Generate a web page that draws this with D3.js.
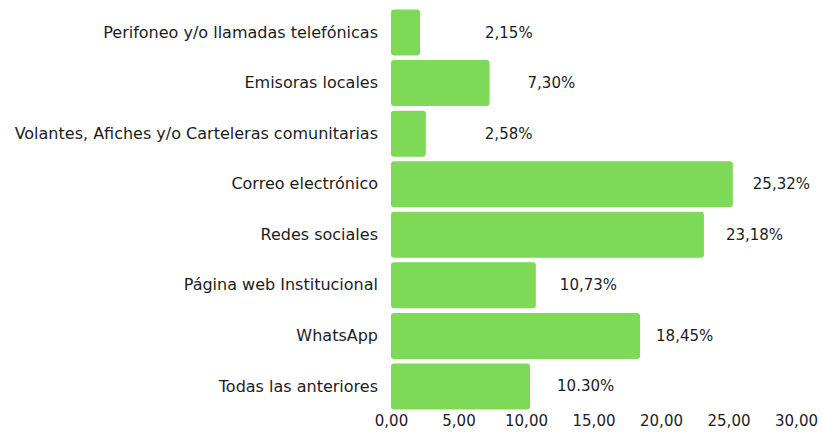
<!DOCTYPE html>
<html>
<head>
<meta charset="utf-8">
<script src="https://cdn.jsdelivr.net/npm/d3@7"></script>
<style>
  body { margin: 0; background: #fff; }
  text { font-family: "DejaVu Sans", sans-serif; fill: #1c1c1c; }
</style>
</head>
<body>
<div id="chart"></div>
<script>
const categories = [
  "Perifoneo y/o llamadas telefónicas",
  "Emisoras locales",
  "Volantes, Afiches y/o Carteleras comunitarias",
  "Correo electrónico",
  "Redes sociales",
  "Página web Institucional",
  "WhatsApp",
  "Todas las anteriores",
];
const values = [2.15, 7.3, 2.58, 25.32, 23.18, 10.73, 18.45, 10.3];
const valueLabels = ["2,15%", "7,30%", "2,58%", "25,32%", "23,18%", "10,73%", "18,45%", "10.30%"];
const xTicks = [0, 5, 10, 15, 20, 25, 30];

// label gap from bar end, as placed in the original
const labelGap = [65, 38, 59, 20, 22, 24, 16, 27];

const drawChart = () => {
  const dimensions = {
    width: 822,
    height: 435,
    margin: { top: 9.5, right: 26, bottom: 25.5, left: 391 },
  };

  const svg = d3
    .select("#chart")
    .append("svg")
    .attr("width", dimensions.width)
    .attr("height", dimensions.height);

  const xScale = d3
    .scaleLinear()
    .domain([0, 30])
    .range([dimensions.margin.left, dimensions.width - dimensions.margin.right]);

  const yScale = d3
    .scaleBand()
    .domain(categories)
    .range([dimensions.margin.top, dimensions.height - dimensions.margin.bottom])
    .paddingInner(0.09)
    .paddingOuter(0);

  // bars
  svg
    .append("g")
    .selectAll("rect")
    .data(values)
    .join("rect")
    .attr("x", xScale(0))
    .attr("y", (d, i) => yScale(categories[i]))
    .attr("width", (d) => xScale(d) - xScale(0))
    .attr("height", yScale.bandwidth())
    .attr("rx", 3)
    .attr("fill", "#7ed957");

  // value labels
  svg
    .append("g")
    .style("font-size", "15px")
    .style("dominant-baseline", "central")
    .selectAll("text")
    .data(values)
    .join("text")
    .attr("x", (d, i) => xScale(d) + labelGap[i])
    .attr("y", (d, i) => yScale(categories[i]) + yScale.bandwidth() / 2)
    .text((d, i) => valueLabels[i]);

  // category axis
  const yAxis = d3.axisLeft(yScale).tickSize(0).tickPadding(13);
  svg
    .append("g")
    .attr("transform", `translate(${xScale(0)},0)`)
    .call(yAxis)
    .call((g) => g.select(".domain").remove())
    .selectAll("text")
    .style("font-size", "16px");

  // value axis
  const xAxis = d3
    .axisBottom(xScale)
    .tickValues(xTicks)
    .tickSize(0)
    .tickPadding(0)
    .tickFormat((d) => d3.format(".2f")(d).replace(".", ","));
  svg
    .append("g")
    .attr("transform", `translate(0,${dimensions.height - 20})`)
    .call(xAxis)
    .call((g) => g.select(".domain").remove())
    .selectAll("text")
    .style("font-size", "15px");

  svg.selectAll("g text").attr("font-family", null);
};

drawChart();
</script>
</body>
</html>
